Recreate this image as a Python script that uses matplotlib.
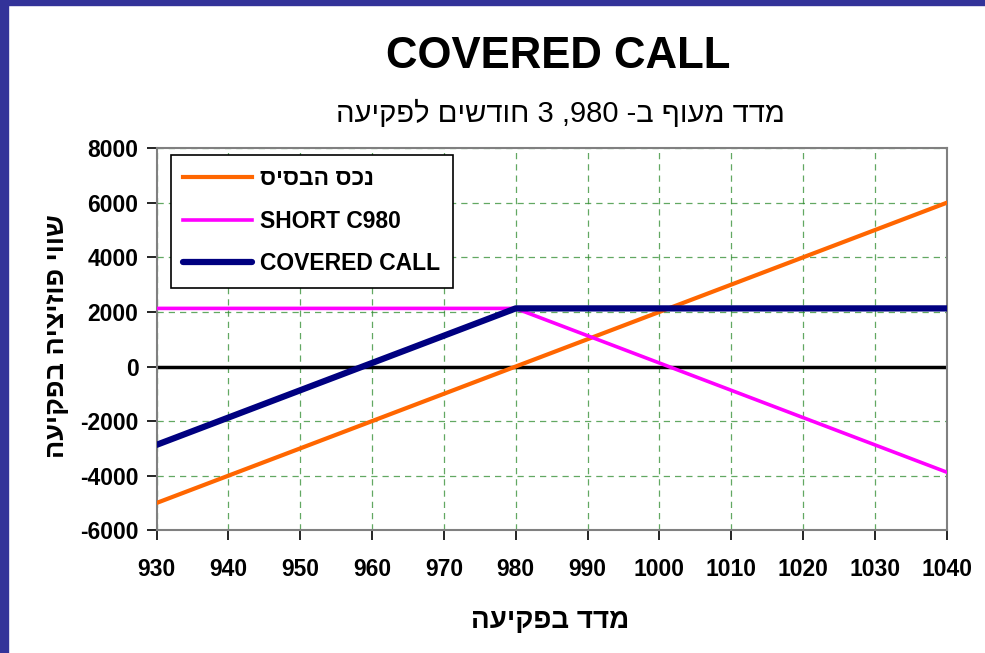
import numpy as np
import matplotlib
matplotlib.use("Agg")
import matplotlib.pyplot as plt
from matplotlib.patches import Rectangle

plt.rcParams['font.family'] = ['Liberation Sans', 'DejaVu Sans']
plt.rcParams['axes.unicode_minus'] = False

# data
index_at_expiry = [930, 940, 950, 960, 970, 980, 990, 1000, 1010, 1020, 1030, 1040]
underlying = [-5000, -4000, -3000, -2000, -1000, 0, 1000, 2000, 3000, 4000, 5000, 6000]
short_call = [2130, 2130, 2130, 2130, 2130, 2130, 1130, 130, -870, -1870, -2870, -3870]
covered_call = [-2870, -1870, -870, 130, 1130, 2130, 2130, 2130, 2130, 2130, 2130, 2130]

x_ticks = [930, 940, 950, 960, 970, 980, 990, 1000, 1010, 1020, 1030, 1040]
y_ticks = [-6000, -4000, -2000, 0, 2000, 4000, 6000, 8000]


def rtl(s):
    # matplotlib has no bidi: flip the string, then put digit runs back in order
    out = s[::-1]
    res, run = "", ""
    for ch in out:
        if ch.isdigit():
            run += ch
        else:
            res += run[::-1] + ch
            run = ""
    return res + run[::-1]


title = "COVERED CALL"
subtitle = rtl("מדד מעוף ב- 980, 3 חודשים לפקיעה")
xlab = rtl("מדד בפקיעה")
ylab = rtl("שווי פוזיציה בפקיעה")
names = [rtl("נכס הבסיס"), "SHORT C980", "COVERED CALL"]

fig = plt.figure(figsize=(9.85, 6.53), dpi=100)
fig.patches.append(Rectangle((0, 0.992), 1, 0.008, transform=fig.transFigure,
                             color="#333399", zorder=10))
fig.patches.append(Rectangle((0, 0), 0.008, 1, transform=fig.transFigure,
                             color="#333399", zorder=10))

ax = fig.add_axes([0.159, 0.188, 0.802, 0.585])

ax.plot(index_at_expiry, underlying, color="#FF6600", lw=3, label=names[0], zorder=3)
ax.plot(index_at_expiry, short_call, color="#FF00FF", lw=2.6, label=names[1], zorder=3)
ax.plot(index_at_expiry, covered_call, color="#000080", lw=4.5, label=names[2],
        zorder=4, solid_capstyle="round")
ax.axhline(0, color="black", lw=2.5, zorder=2)

ax.set_xlim(930, 1040)
ax.set_ylim(-6000, 8000)
ax.set_xticks(x_ticks)
ax.set_yticks(y_ticks)
ax.grid(True, color="#2E8B2E", ls=(0, (5, 4)), lw=0.9, alpha=0.75)
for s in ax.spines.values():
    s.set_color("#808080")
    s.set_linewidth(1.5)
ax.tick_params(colors="black", length=7, width=1.2, labelsize=16.5)
ax.tick_params(axis="x", pad=13)
ax.tick_params(axis="y", pad=6)
for lab in ax.get_xticklabels() + ax.get_yticklabels():
    lab.set_fontweight("bold")

fig.text(0.567, 0.913, title, ha="center", va="center", fontsize=31.5, fontweight="bold")
fig.text(0.5685, 0.826, subtitle, ha="center", va="center", fontsize=21)
fig.text(0.559, 0.049, xlab, ha="center", va="center", fontsize=20, fontweight="bold")
fig.text(0.058, 0.485, ylab, ha="center", va="center", fontsize=19.5, fontweight="bold",
         rotation=90)

leg = ax.legend(loc="upper left", bbox_to_anchor=(0.018, 0.983),
                prop={"weight": "bold", "size": 16.5}, fancybox=False, framealpha=1,
                edgecolor="black", handlelength=3.0, borderpad=0.55, labelspacing=0.85,
                handletextpad=0.35, borderaxespad=0)
leg.get_frame().set_linewidth(1.2)

fig.savefig("out.png", dpi=100)
